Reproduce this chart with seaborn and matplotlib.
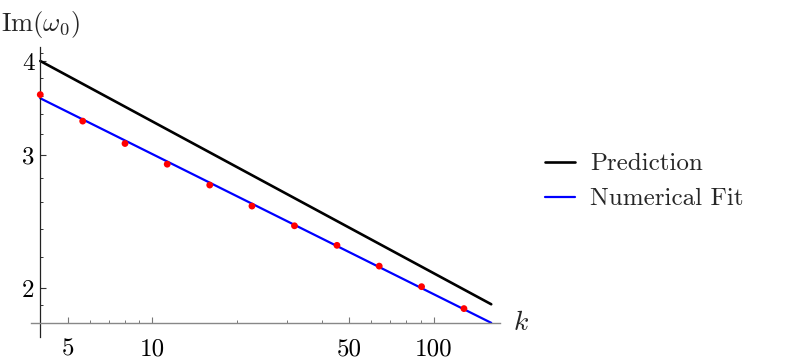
import matplotlib
matplotlib.use("Agg")
import matplotlib.pyplot as plt
from matplotlib.ticker import NullFormatter
import seaborn as sns

# values (log-log plot)
k_pred = [4, 160]
im_pred = [4.0, 1.905]

k_line = [4, 160]
im_line = [3.57, 1.80]

k_fit = [4, 5.66, 8, 11.3, 16, 22.6, 32, 45.3, 64, 90.5, 128]
im_fit = [3.61, 3.33, 3.11, 2.92, 2.74, 2.57, 2.42, 2.28, 2.14, 2.01, 1.88]

x_major = [5, 10, 50, 100]
x_labels = ["5", "10", "50", "100"]
x_minor = [6, 7, 8, 9, 20, 30, 40, 60, 70, 80, 90]
y_major = [2, 3, 4]
y_labels = ["2", "3", "4"]
y_minor = [1.9, 2.2, 2.4, 2.6, 2.8, 3.2, 3.4, 3.6, 3.8, 4.1]

sns.set_style("white")
plt.rcParams["mathtext.fontset"] = "cm"
plt.rcParams["font.family"] = ["cmr10", "DejaVu Serif"]
plt.rcParams["axes.formatter.use_mathtext"] = True

fig = plt.figure(figsize=(7.89, 3.63), dpi=100)
ax = fig.add_axes([31 / 789, 26 / 363, 469 / 789, 290.3 / 363])

sns.lineplot(x=k_pred, y=im_pred, color="black", lw=1.9, ax=ax, label="Prediction")
sns.lineplot(x=k_line, y=im_line, color="#0000ff", lw=1.6, ax=ax, label="Numerical Fit")
sns.scatterplot(x=k_fit, y=im_fit, color="#ff0000", s=24, edgecolor="none", ax=ax, zorder=3)

ax.set_xscale("log")
ax.set_yscale("log")
ax.set_xlim(3.708, 171.9)
ax.set_ylim(1.724, 4.178)

ax.set_xticks(x_major)
ax.set_xticklabels(x_labels)
ax.set_xticks(x_minor, minor=True)
ax.set_yticks(y_major)
ax.set_yticklabels(y_labels)
ax.set_yticks(y_minor, minor=True)
ax.xaxis.set_minor_formatter(NullFormatter())
ax.yaxis.set_minor_formatter(NullFormatter())

ax.tick_params(which="both", bottom=True, left=True, top=False, right=False)
ax.tick_params(which="major", direction="in", length=4, width=0.8, labelsize=18)
ax.tick_params(which="minor", direction="in", length=2.2, width=0.7)
ax.tick_params(axis="x", which="major", pad=11, colors="#777777", labelcolor="black")
ax.tick_params(axis="x", which="minor", colors="#777777")
ax.tick_params(axis="y", which="both", colors="#333333", labelcolor="black")
ax.tick_params(axis="y", which="major", pad=4)

for s in ["top", "right"]:
    ax.spines[s].set_visible(False)
ax.spines["left"].set_position(("data", 4))
ax.spines["bottom"].set_position(("data", 1.8))
ax.spines["left"].set_color("#222222")
ax.spines["bottom"].set_color("#888888")
ax.spines["left"].set_linewidth(0.9)
ax.spines["bottom"].set_linewidth(1.0)
ax.set_xlabel("")
ax.set_ylabel("")

fig.text(1 / 789, 1 - 24 / 363, r"$\mathrm{Im}(\omega_0)$", fontsize=19, ha="left", va="center")
fig.text(521 / 789, 1 - 323 / 363, r"$k$", fontsize=20, ha="center", va="center")

handles, labels = ax.get_legend_handles_labels()
ax.get_legend().remove()
fig.legend(handles[:2], labels[:2], loc="center left", bbox_to_anchor=(545 / 789, 0.5),
           frameon=False, borderpad=0, borderaxespad=0, handlelength=1.2,
           handletextpad=0.6, labelspacing=0.5, prop={"family": "cmr10", "size": 18})

fig.savefig("out.png", dpi=100)
